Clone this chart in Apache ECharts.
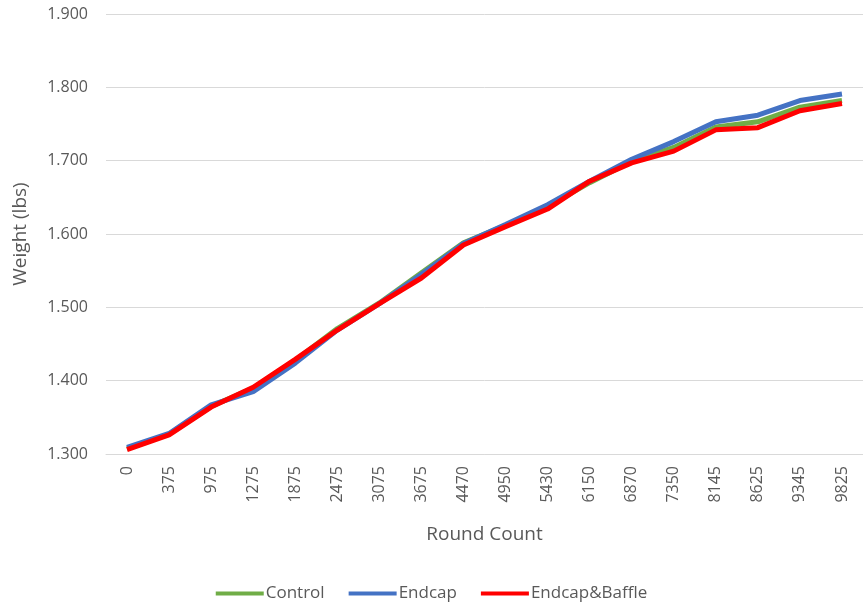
<!DOCTYPE html>
<html>
<head>
<meta charset="utf-8">
<script src="https://cdn.jsdelivr.net/npm/echarts@6/dist/echarts.min.js"></script>
<style>
  html, body { margin: 0; padding: 0; background: #fff; }
  #chart { width: 863px; height: 606px; }
</style>
</head>
<body>
<div id="chart"></div>
<script>
// Round counts along the x axis
const rounds = ['0', '375', '975', '1275', '1875', '2475', '3075', '3675', '4470',
  '4950', '5430', '6150', '6870', '7350', '8145', '8625', '9345', '9825']

// Weight (lbs) per series
const control = [1.307, 1.327, 1.365, 1.390, 1.428, 1.471, 1.506, 1.547, 1.588,
  1.612, 1.637, 1.670, 1.699, 1.718, 1.746, 1.753, 1.773, 1.782]
const endcap = [1.309, 1.328, 1.367, 1.385, 1.424, 1.469, 1.505, 1.545, 1.587,
  1.613, 1.640, 1.672, 1.702, 1.726, 1.753, 1.762, 1.782, 1.791]
const endcapBaffle = [1.306, 1.326, 1.364, 1.391, 1.429, 1.469, 1.505, 1.540, 1.585,
  1.610, 1.634, 1.672, 1.697, 1.713, 1.742, 1.745, 1.768, 1.778]

const FONT = 'Open Sans'
const TEXT = '#595959'

const chart = echarts.init(document.getElementById('chart'), null, { renderer: 'canvas' })

function line(name, data, color) {
  return {
    name,
    type: 'line',
    data,
    symbol: 'none',
    lineStyle: { width: 5, color },
    itemStyle: { color },
  }
}

chart.setOption({
  animation: false,
  textStyle: { fontFamily: FONT },
  grid: { left: 106, right: 0, top: 14, bottom: 152, outerBoundsMode: 'none' },
  legend: {
    bottom: -1,
    left: 'center',
    icon: 'rect',
    itemWidth: 48,
    itemHeight: 4,
    itemGap: 24,
    textStyle: { color: TEXT, fontSize: 17, fontFamily: FONT, padding: [0, 0, 0, -3] },
    data: ['Control', 'Endcap', 'Endcap&Baffle'],
  },
  xAxis: {
    type: 'category',
    data: rounds,
    boundaryGap: true,
    name: 'Round Count',
    nameLocation: 'middle',
    nameGap: 71,
    nameMoveOverlap: false,
    nameTextStyle: { color: TEXT, fontSize: 19, fontFamily: FONT },
    axisLine: { lineStyle: { color: '#d9d9d9', width: 1 } },
    axisTick: { show: false },
    axisLabel: { color: TEXT, fontSize: 16, rotate: 90, margin: 12, interval: 0, fontFamily: FONT },
  },
  yAxis: {
    type: 'value',
    min: 1.3,
    max: 1.9,
    interval: 0.1,
    name: 'Weight (lbs)',
    nameLocation: 'middle',
    nameGap: 76,
    nameMoveOverlap: false,
    nameTextStyle: { color: TEXT, fontSize: 19, fontFamily: FONT },
    axisLine: { show: false },
    axisTick: { show: false },
    axisLabel: {
      color: TEXT, fontSize: 16, margin: 18, fontFamily: FONT,
      formatter: v => v.toFixed(3),
    },
    splitLine: { lineStyle: { color: '#d9d9d9', width: 1 } },
  },
  series: [
    line('Control', control, '#70ad47'),
    line('Endcap', endcap, '#4472c4'),
    line('Endcap&Baffle', endcapBaffle, '#ff0000'),
  ],
})
</script>
</body>
</html>
